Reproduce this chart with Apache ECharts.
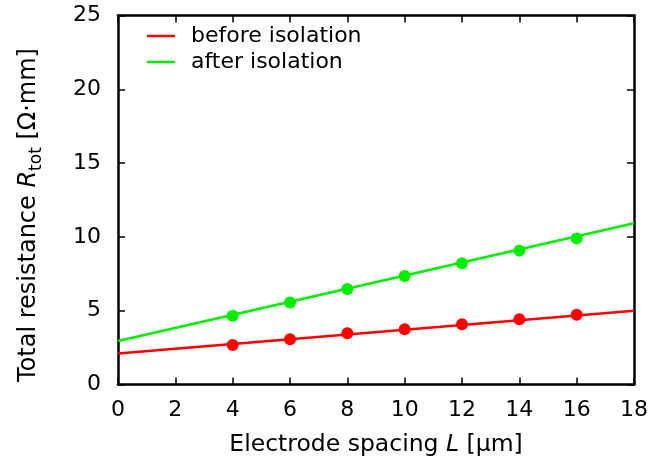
<!DOCTYPE html>
<html>
<head>
<meta charset="utf-8">
<script src="https://cdn.jsdelivr.net/npm/echarts@6/dist/echarts.min.js"></script>
<style>
  html, body { margin: 0; padding: 0; background: #fff; }
  #chart { width: 653px; height: 468px; }
</style>
</head>
<body>
<div id="chart"></div>
<script>
// Measured resistance vs. electrode spacing
const spacing = [4, 6, 8, 10, 12, 14, 16];
const beforeIsolation = [2.68, 3.06, 3.47, 3.74, 4.08, 4.42, 4.73];
const afterIsolation = [4.66, 5.55, 6.47, 7.35, 8.21, 9.07, 9.90];

// Linear fits, given by their end points at L = 0 and L = 18
const fitSpacing = [0, 18];
const beforeFit = [2.10, 5.00];
const afterFit = [2.95, 10.92];

const xTicks = [0, 2, 4, 6, 8, 10, 12, 14, 16, 18];
const yTicks = [0, 5, 10, 15, 20, 25];

const RED = '#ff0000';
const GREEN = '#00ee00';
const FONT = 'DejaVu Sans, sans-serif';
const FS = 22;
const TITLE_FS = 23.5;

const pairs = (xs, ys) => xs.map((x, i) => [x, ys[i]]);

const axisLine = { show: true, onZero: false, lineStyle: { color: '#000', width: 2.5 } };
const tickIn = { show: true, inside: true, length: 7, lineStyle: { color: '#000', width: 1.5 } };

const chart = echarts.init(document.getElementById('chart'), null, { renderer: 'canvas' });

chart.setOption({
  animation: false,
  backgroundColor: '#fff',
  textStyle: { fontFamily: FONT },
  grid: { left: 118, right: 19, top: 15.5, bottom: 83.5, containLabel: false },
  legend: {
    data: ['before isolation', 'after isolation'],
    orient: 'vertical',
    left: 142,
    top: 20,
    itemWidth: 28,
    itemHeight: 2.5,
    itemGap: 4,
    icon: 'rect',
    textStyle: { fontFamily: FONT, fontSize: FS, color: '#000', padding: [0, 0, 0, 11] }
  },
  xAxis: [{
    type: 'value',
    min: xTicks[0],
    max: xTicks[xTicks.length - 1],
    interval: 2,
    axisLine: axisLine,
    axisTick: tickIn,
    splitLine: { show: false },
    axisLabel: { fontFamily: FONT, fontSize: FS, color: '#000', margin: 15 },
    name: '{a|Electrode spacing }{i|L}{a| [μm]}',
    nameLocation: 'middle',
    nameGap: 48,
    nameTextStyle: {
      rich: {
        a: { fontFamily: FONT, fontSize: TITLE_FS, color: '#000' },
        i: { fontFamily: FONT, fontSize: TITLE_FS, color: '#000', fontStyle: 'italic' }
      }
    }
  }, {
    type: 'value',
    position: 'top',
    min: xTicks[0],
    max: xTicks[xTicks.length - 1],
    interval: 2,
    axisLine: axisLine,
    axisTick: tickIn,
    axisLabel: { show: false },
    splitLine: { show: false }
  }],
  yAxis: [{
    type: 'value',
    min: yTicks[0],
    max: yTicks[yTicks.length - 1],
    interval: 5,
    axisLine: axisLine,
    axisTick: tickIn,
    splitLine: { show: false },
    axisLabel: { fontFamily: FONT, fontSize: FS, color: '#000', margin: 17 },
    name: '{a|Total resistance }{i|R}{s|tot}{a| [Ω·mm]}',
    nameLocation: 'middle',
    nameRotate: 90,
    nameGap: 73,
    nameTextStyle: {
      padding: [0, 30, 0, 0],
      rich: {
        a: { fontFamily: FONT, fontSize: 24, color: '#000', lineHeight: 32 },
        i: { fontFamily: FONT, fontSize: 24, color: '#000', fontStyle: 'italic', lineHeight: 32 },
        s: { fontFamily: FONT, fontSize: 17, color: '#000', lineHeight: 32, verticalAlign: 'bottom' }
      }
    }
  }, {
    type: 'value',
    position: 'right',
    min: yTicks[0],
    max: yTicks[yTicks.length - 1],
    interval: 5,
    axisLine: axisLine,
    axisTick: tickIn,
    axisLabel: { show: false },
    splitLine: { show: false }
  }],
  series: [
    {
      name: 'before isolation',
      type: 'line',
      data: pairs(fitSpacing, beforeFit),
      showSymbol: false,
      symbol: 'none',
      lineStyle: { color: RED, width: 2.5 },
      itemStyle: { color: RED },
      z: 3
    },
    {
      name: 'after isolation',
      type: 'line',
      data: pairs(fitSpacing, afterFit),
      showSymbol: false,
      symbol: 'none',
      lineStyle: { color: GREEN, width: 2.5 },
      itemStyle: { color: GREEN },
      z: 3
    },
    {
      name: 'before isolation (measured)',
      type: 'scatter',
      data: pairs(spacing, beforeIsolation),
      symbol: 'circle',
      symbolSize: 12,
      itemStyle: { color: RED, opacity: 1 },
      z: 4
    },
    {
      name: 'after isolation (measured)',
      type: 'scatter',
      data: pairs(spacing, afterIsolation),
      symbol: 'circle',
      symbolSize: 12,
      itemStyle: { color: GREEN, opacity: 1 },
      z: 4
    }
  ]
});
</script>
</body>
</html>
